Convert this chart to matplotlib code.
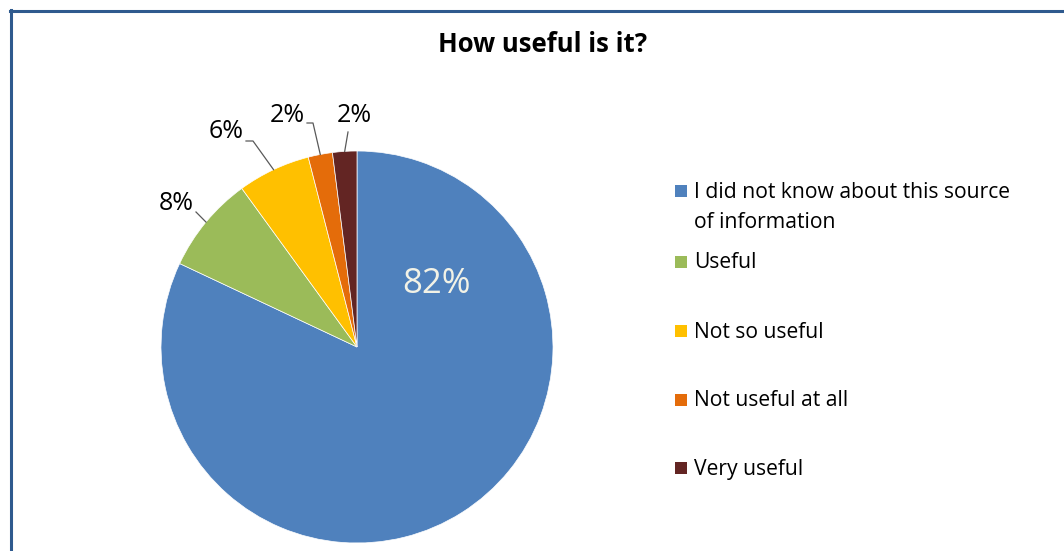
import matplotlib
matplotlib.use("Agg")
import matplotlib.pyplot as plt
from matplotlib.lines import Line2D
from matplotlib.patches import Rectangle
import numpy as np

plt.rcParams["font.family"] = ["Open Sans", "DejaVu Sans"]

categories = [
    "I did not know about this source\nof information",
    "Useful",
    "Not so useful",
    "Not useful at all",
    "Very useful",
]
shares = [82, 8, 6, 2, 2]
colors = ["#4F81BD", "#9BBB59", "#FFC000", "#E46C0A", "#632523"]
title = "How useful is it?"

W, H = 1064, 551
fig = plt.figure(figsize=(W / 100, H / 100), dpi=100)
fig.patch.set_facecolor("white")


def fx(x):
    return x / W


def fy(y):
    return 1 - y / H


# chart frame (runs off the right and bottom edges)
frame_color = "#2F5A8E"
fig.add_artist(Line2D([fx(10.5), fx(10.5)], [fy(10), fy(560)], color=frame_color, lw=2.2))
fig.add_artist(Line2D([fx(9.5), fx(1070)], [fy(10.5), fy(10.5)], color=frame_color, lw=2.2))

fig.text(fx(543), fy(45), title, ha="center", va="center", fontsize=18.5, fontweight="bold")

# pie placed in pixel space: centre (357, 347), radius 196
cx, cy, r = 357, 347, 196
ax = fig.add_axes([(cx - r) / W, 1 - (cy + r) / H, 2 * r / W, 2 * r / H])
wedges, _ = ax.pie(
    shares,
    colors=colors,
    startangle=90,
    counterclock=False,
    radius=1,
    wedgeprops=dict(edgecolor="white", linewidth=0.5),
)
ax.set_xlim(-1, 1)
ax.set_ylim(-1, 1)
ax.set_aspect("equal")
ax.axis("off")


def to_data(px, py):
    return (px - cx) / r, (cy - py) / r


# big slice label sits inside the pie
lx, ly = to_data(436, 284)
ax.text(lx, ly, f"{shares[0]}%", color="#F2F2E6", fontsize=25, ha="center", va="center")

# small slices: label position and leader line bends (pixels)
label_pos = [None, (176, 204), (226, 132), (287, 116), (354, 116)]
leader_pts = [None, [(196, 212)], [(253, 141), (246, 141)], [(313, 123), (307, 123)], [(348, 132)]]

for i in range(1, len(shares)):
    w = wedges[i]
    mid = np.deg2rad((w.theta1 + w.theta2) / 2)
    xs = [np.cos(mid)]
    ys = [np.sin(mid)]
    for px, py in leader_pts[i]:
        dx, dy = to_data(px, py)
        xs.append(dx)
        ys.append(dy)
    ax.plot(xs, ys, color="#595959", lw=0.9, clip_on=False)
    tx, ty = to_data(*label_pos[i])
    ax.text(tx, ty, f"{shares[i]}%", fontsize=18, ha="center", va="center", clip_on=False)

# legend drawn by hand: square + text, one row per category
legend_y = [192, 263, 332, 401, 469]
line_gap = 30
for label, color, y in zip(categories, colors, legend_y):
    fig.add_artist(
        Rectangle((fx(675), fy(y + 5)), 12 / W, 12 / H, facecolor=color, edgecolor="none")
    )
    for k, line in enumerate(label.split("\n")):
        fig.text(fx(694), fy(y + k * line_gap), line, fontsize=15.2, va="center", ha="left")

fig.savefig("out.png", dpi=100)
